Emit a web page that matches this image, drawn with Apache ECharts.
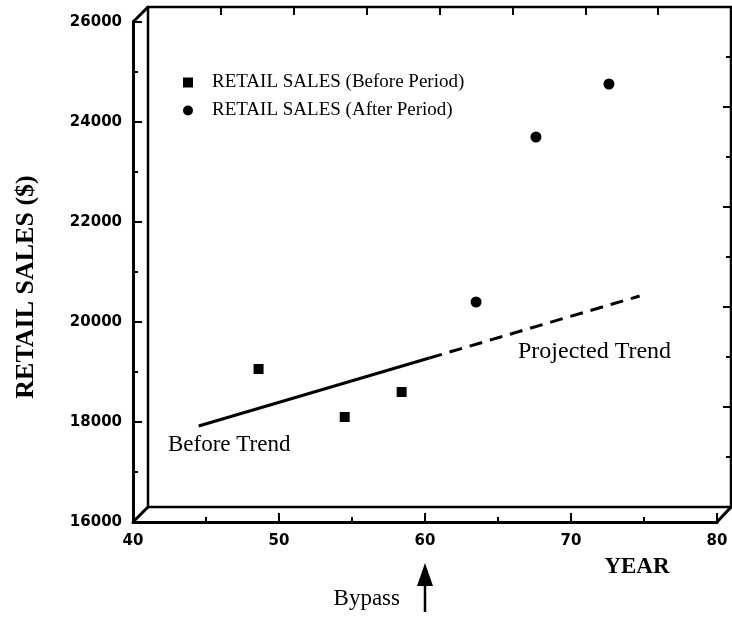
<!DOCTYPE html>
<html>
<head>
<meta charset="utf-8">
<script src="https://cdn.jsdelivr.net/npm/echarts@6/dist/echarts.min.js"></script>
<style>
html, body { margin: 0; padding: 0; background: #fff; }
#chart { width: 732px; height: 619px; }
</style>
</head>
<body>
<div id="chart"></div>
<script>
// axis ranges
var yearTicks = [40, 50, 60, 70, 80];
var salesTicks = [16000, 18000, 20000, 22000, 24000, 26000];

// retail sales points
var beforeYears = [48.6, 54.5, 58.4];
var beforeSales = [19060, 18100, 18600];
var afterYears = [63.5, 67.6, 72.6];
var afterSales = [20400, 23700, 24760];

// trend lines (end points)
var beforeTrendYears = [44.5, 60.3];
var beforeTrendSales = [17920, 19280];
var projectedYears = [60.3, 74.7];
var projectedSales = [19280, 20520];

var bypassYear = 60;

var serif = 'Liberation Serif';
var sans = 'DejaVu Sans';

function pairs(xs, ys) {
  return xs.map(function (x, i) { return [x, ys[i]]; });
}

var chart = echarts.init(document.getElementById('chart'));

var xMin = yearTicks[0], xMax = yearTicks[yearTicks.length - 1];
var yMin = salesTicks[0], yMax = salesTicks[salesTicks.length - 1];

var option = {
  animation: false,
  backgroundColor: '#fff',
  grid: [
    // back wall
    { left: 148, right: 1, top: 7, bottom: 112, show: true, borderColor: '#000', borderWidth: 2.5, backgroundColor: 'transparent' },
    // front frame
    { left: 133, right: 15, top: 22, bottom: 97 }
  ],
  legend: {
    data: [
      { name: 'RETAIL SALES (Before Period)', icon: 'rect' },
      { name: 'RETAIL SALES (After Period)', icon: 'circle' }
    ],
    orient: 'vertical',
    left: 178,
    top: 68,
    itemWidth: 10,
    itemHeight: 10,
    itemGap: 9,
    itemStyle: { opacity: 1 },
    textStyle: { fontFamily: serif, fontSize: 19, color: '#000', padding: [0, 0, 0, 14] }
  },
  xAxis: [
    {
      gridIndex: 0, type: 'value', position: 'top', min: xMin, max: xMax, interval: 5,
      axisLine: { show: false },
      axisTick: { show: true, inside: true, length: 8, lineStyle: { color: '#000', width: 2 } },
      axisLabel: { show: false },
      splitLine: { show: false }
    },
    {
      gridIndex: 1, type: 'value', min: xMin, max: xMax, interval: 10,
      axisLine: { show: true, onZero: false, lineStyle: { color: '#000', width: 3 } },
      axisTick: { show: true, inside: true, length: 9, lineStyle: { color: '#000', width: 2 } },
      minorTick: { show: true, splitNumber: 2, length: 5, lineStyle: { color: '#000', width: 2 } },
      axisLabel: { margin: 12, color: '#000', fontFamily: sans, fontWeight: 'bold', fontSize: 15 },
      splitLine: { show: false }
    }
  ],
  yAxis: [
    {
      gridIndex: 0, type: 'value', position: 'right', min: yMin, max: yMax, interval: 2000,
      axisLine: { show: false },
      axisTick: { show: true, inside: true, length: 8, lineStyle: { color: '#000', width: 2 } },
      minorTick: { show: true, splitNumber: 2, length: 5, lineStyle: { color: '#000', width: 2 } },
      axisLabel: { show: false },
      splitLine: { show: false }
    },
    {
      gridIndex: 1, type: 'value', min: yMin, max: yMax, interval: 2000,
      axisLine: { show: true, onZero: false, lineStyle: { color: '#000', width: 3 } },
      axisTick: { show: true, inside: true, length: 9, lineStyle: { color: '#000', width: 2 } },
      minorTick: { show: true, splitNumber: 2, length: 5, lineStyle: { color: '#000', width: 2 } },
      axisLabel: {
        margin: 11, color: '#000', fontFamily: sans, fontWeight: 'bold', fontSize: 15,
        formatter: function (v) { return String(v); }
      },
      splitLine: { show: false }
    }
  ],
  series: [
    {
      name: 'Before Trend',
      type: 'line',
      xAxisIndex: 1, yAxisIndex: 1,
      showSymbol: false,
      lineStyle: { color: '#000', width: 3 },
      data: pairs(beforeTrendYears, beforeTrendSales)
    },
    {
      name: 'Projected Trend',
      type: 'line',
      xAxisIndex: 1, yAxisIndex: 1,
      showSymbol: false,
      lineStyle: { color: '#000', width: 3, type: [13, 8] },
      data: pairs(projectedYears, projectedSales)
    },
    {
      name: 'RETAIL SALES (Before Period)',
      type: 'scatter',
      xAxisIndex: 1, yAxisIndex: 1,
      symbol: 'rect',
      symbolSize: 10,
      itemStyle: { color: '#000', opacity: 1 },
      data: pairs(beforeYears, beforeSales)
    },
    {
      name: 'RETAIL SALES (After Period)',
      type: 'scatter',
      xAxisIndex: 1, yAxisIndex: 1,
      symbol: 'circle',
      symbolSize: 11,
      itemStyle: { color: '#000', opacity: 1 },
      data: pairs(afterYears, afterSales)
    }
  ]
};

chart.setOption(option);

// box edges joining front frame to back wall
function edge(x, y) {
  var a = chart.convertToPixel({ gridIndex: 1 }, [x, y]);
  var b = chart.convertToPixel({ gridIndex: 0 }, [x, y]);
  return {
    type: 'line',
    shape: { x1: a[0], y1: a[1], x2: b[0], y2: b[1] },
    style: { stroke: '#000', lineWidth: 3 }
  };
}

var bypassX = chart.convertToPixel({ gridIndex: 1 }, [bypassYear, yMin])[0];

chart.setOption({
  graphic: [
    edge(xMin, yMax),
    edge(xMin, yMin),
    edge(xMax, yMin),
    {
      type: 'text', x: 26, y: 287, rotation: Math.PI / 2,
      style: { text: 'RETAIL SALES ($)', fill: '#000', font: 'bold 26px ' + serif, align: 'center', verticalAlign: 'middle' }
    },
    {
      type: 'text', x: 637, y: 567,
      style: { text: 'YEAR', fill: '#000', font: 'bold 23px ' + serif, align: 'center', verticalAlign: 'middle' }
    },
    {
      type: 'text', x: 168, y: 445,
      style: { text: 'Before Trend', fill: '#000', font: '23px ' + serif, align: 'left', verticalAlign: 'middle' }
    },
    {
      type: 'text', x: 518, y: 352,
      style: { text: 'Projected Trend', fill: '#000', font: '24px ' + serif, align: 'left', verticalAlign: 'middle' }
    },
    {
      type: 'text', x: 400, y: 599,
      style: { text: 'Bypass', fill: '#000', font: '23px ' + serif, align: 'right', verticalAlign: 'middle' }
    },
    {
      type: 'line',
      shape: { x1: bypassX, y1: 612, x2: bypassX, y2: 578 },
      style: { stroke: '#000', lineWidth: 2.5 }
    },
    {
      type: 'polygon',
      shape: { points: [[bypassX, 563], [bypassX - 8, 586], [bypassX + 8, 586]] },
      style: { fill: '#000' }
    }
  ]
});
</script>
</body>
</html>
